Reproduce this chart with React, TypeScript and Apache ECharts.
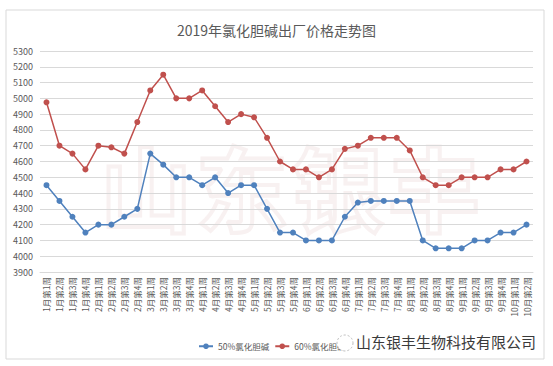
import React, { useEffect, useRef } from "react";
import * as echarts from "echarts";

const months = ["1月", "2月", "3月", "4月", "5月", "6月", "7月", "8月", "9月", "10月"];
const weeksPerMonth = [4, 4, 4, 4, 4, 4, 4, 4, 4, 2];
const categories: string[] = [];
months.forEach((m, i) => {
  for (let w = 1; w <= weeksPerMonth[i]; w++) categories.push(`${m}第${w}周`);
});

const series50 = [
  4450, 4350, 4250, 4150, 4200, 4200, 4250, 4300, 4650, 4580, 4500, 4500, 4450,
  4500, 4400, 4450, 4450, 4300, 4150, 4150, 4100, 4100, 4100, 4250, 4340, 4350,
  4350, 4350, 4350, 4100, 4050, 4050, 4050, 4100, 4100, 4150, 4150, 4200,
];
const series60 = [
  4975, 4700, 4650, 4550, 4700, 4690, 4650, 4850, 5050, 5150, 5000, 5000, 5050,
  4950, 4850, 4900, 4880, 4750, 4600, 4550, 4550, 4500, 4550, 4680, 4700, 4750,
  4750, 4750, 4670, 4500, 4450, 4450, 4500, 4500, 4500, 4550, 4550, 4600,
];
const seriesNames = ["50%氯化胆碱", "60%氯化胆碱"];
const titleText = "2019年氯化胆碱出厂价格走势图";
const companyText = "山东银丰生物科技有限公司";
const watermarkChars = ["山", "东", "银", "丰"];

const FONT = "'Noto Sans CJK SC', 'Noto Sans', sans-serif";

export default function App() {
  const ref = useRef<HTMLDivElement>(null);
  useEffect(() => {
    if (!ref.current) return;
    const chart = echarts.init(ref.current, undefined, { renderer: "svg" });
    const watermark = watermarkChars.map((c, i) => ({
      type: "text",
      left: 98 + i * 96,
      top: 136,
      z: -10,
      silent: true,
      style: {
        text: c,
        font: `bold 92px ${FONT}`,
        fill: "rgba(255,255,255,0)",
        stroke: "rgba(235,215,215,0.35)",
        lineWidth: 4,
      },
    }));
    chart.setOption({
      animation: false,
      backgroundColor: "#ffffff",
      textStyle: { fontFamily: FONT },
      title: {
        text: titleText,
        left: "center",
        top: 18,
        textStyle: { fontSize: 14, fontWeight: "normal", color: "#595959", fontFamily: FONT },
      },
      legend: {
        left: 193,
        top: 337,
        itemWidth: 14,
        itemHeight: 7,
        itemGap: 5,
        textStyle: { fontSize: 8.5, color: "#595959", fontFamily: FONT },
        data: seriesNames,
      },
      grid: { left: 40, right: 20, top: 51, bottom: 94, containLabel: false },
      xAxis: {
        type: "category",
        data: categories,
        boundaryGap: true,
        axisLine: { lineStyle: { color: "#d9d9d9" } },
        axisTick: { show: false },
        axisLabel: {
          rotate: 90,
          interval: 0,
          fontSize: 8.5,
          color: "#595959",
          margin: 5,
          fontFamily: FONT,
        },
      },
      yAxis: {
        type: "value",
        min: 3900,
        max: 5300,
        interval: 100,
        axisLine: { show: false },
        axisTick: { show: false },
        axisLabel: {
          fontSize: 9,
          color: "#595959",
          margin: 7,
          fontFamily: FONT,
          formatter: (v: number) => String(v),
        },
        splitLine: { lineStyle: { color: "#d9d9d9", width: 1 } },
      },
      series: [
        {
          name: seriesNames[0],
          type: "line",
          data: series50,
          symbol: "circle",
          symbolSize: 6,
          itemStyle: { color: "#4f81bd" },
          lineStyle: { color: "#4f81bd", width: 1.5 },
        },
        {
          name: seriesNames[1],
          type: "line",
          data: series60,
          symbol: "circle",
          symbolSize: 6,
          itemStyle: { color: "#c0504d" },
          lineStyle: { color: "#c0504d", width: 1.5 },
        },
      ],
      graphic: [
        {
          type: "rect",
          shape: { x: 6, y: 10, width: 538, height: 349 },
          z: -20,
          silent: true,
          style: { fill: "rgba(0,0,0,0)", stroke: "#d9d9d9", lineWidth: 1 },
        },
        ...watermark,
        {
          type: "circle",
          shape: { cx: 345, cy: 343, r: 8 },
          z: 100,
          style: { fill: "#ffffff", stroke: "#bbbbbb", lineWidth: 1, lineDash: [2, 2] },
        },
        {
          type: "text",
          left: 356,
          top: 334,
          z: 100,
          style: {
            text: companyText,
            font: `15px ${FONT}`,
            fill: "#3a3a3a",
          },
        },
      ],
    });
    return () => chart.dispose();
  }, []);
  return (
    <div
      ref={ref}
      style={{ position: "absolute", left: 0, top: 0, width: 553, height: 366 }}
    />
  );
}
